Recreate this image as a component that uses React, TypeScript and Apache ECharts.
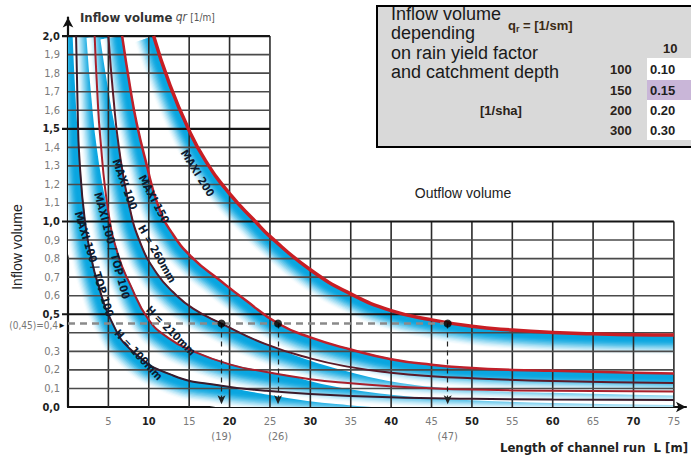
import React, { useEffect, useRef } from 'react';
import * as echarts from 'echarts';

// ---------- axis ticks ----------
const xTickValues = [0, 5, 10, 15, 20, 25, 30, 35, 40, 45, 50, 55, 60, 65, 70, 75];
const yTickValues = [0, 0.1, 0.2, 0.3, 0.4, 0.5, 0.6, 0.7, 0.8, 0.9, 1.0, 1.1, 1.2, 1.3, 1.4, 1.5, 1.6, 1.7, 1.8, 1.9, 2.0];
const upperGridMaxL = 25;
const lowerGridMaxL = 75;
const splitV = 1.0;
const topV = 2.0;

// ---------- curves (L [m], inflow volume) ----------
const c1L = [1.0, 1.2, 1.4, 2.1, 3.0, 3.6, 5.3, 8.0, 13.0, 19.0, 24.4, 30, 40, 50, 60, 75];
const c1V = [2.0, 1.6, 1.35, 1.0, 0.78, 0.68, 0.47, 0.3, 0.17, 0.115, 0.088, 0.07, 0.052, 0.044, 0.04, 0.038];
const c2L = [3.3, 3.6, 4.0, 5.0, 6.2, 7.7, 10.0, 12.5, 15.0, 20.0, 24.4, 30, 35, 40, 45, 50, 60, 75];
const c2V = [2.0, 1.72, 1.45, 1.05, 0.82, 0.66, 0.47, 0.37, 0.31, 0.23, 0.19, 0.15, 0.128, 0.112, 0.101, 0.094, 0.087, 0.083];
const c3L = [5.0, 5.6, 6.3, 7.5, 9.0, 11.0, 13.0, 15.5, 19.0, 24.4, 30, 35, 40, 45, 50, 60, 75];
const c3V = [2.0, 1.68, 1.4, 1.1, 0.88, 0.72, 0.62, 0.53, 0.45, 0.34, 0.262, 0.215, 0.185, 0.166, 0.155, 0.14, 0.13];
const c4L = [6.7, 7.7, 8.5, 9.6, 11.2, 13.0, 15.5, 18.6, 22.0, 26.0, 30, 35, 40, 45, 50, 55, 60, 65, 70, 75];
const c4V = [2.0, 1.72, 1.53, 1.33, 1.08, 0.93, 0.8, 0.69, 0.575, 0.45, 0.375, 0.31, 0.258, 0.228, 0.21, 0.2, 0.195, 0.19, 0.185, 0.18];
const c5L = [10.6, 12.5, 14.9, 17.0, 20.0, 23.2, 25.0, 30, 35, 40, 45, 50, 55, 60, 65, 70, 75];
const c5V = [2.0, 1.75, 1.5, 1.33, 1.15, 1.0, 0.92, 0.74, 0.61, 0.52, 0.47, 0.435, 0.415, 0.402, 0.395, 0.39, 0.388];

const curveNames = ['MAXI 100 / TOP 100 (a)', 'MAXI 100 / TOP 100 (b)', 'MAXI 100', 'MAXI 150', 'MAXI 200'];
const curveColors = ['#3a1a2a', '#a8202c', '#5a1a28', '#c0202a', '#c81e24'];
const curveWidths = [2, 2, 2, 2.5, 3.5];

// ---------- curve labels ----------
const curveLabelTexts = ['MAXI 200', 'MAXI 150', 'H = 260mm', 'MAXI 100', 'H = 210mm', 'MAXI 100 / TOP 100', 'H = 100mm', 'MAXI 100 / TOP 100'];
const curveLabelL = [16.0, 10.6, 11.0, 7.0, 12.7, 5.4, 8.7, 3.2];
const curveLabelV = [1.26, 1.12, 0.825, 1.2, 0.41, 0.87, 0.28, 0.77];
const curveLabelAngle = [58, 62, 60, 70, 45, 75, 47, 73];

// ---------- reference reading ----------
const refLineV = 0.45;
const refPointsL = [19, 26, 47];

// ---------- table ----------
const tableTitleLines = ['Inflow volume', 'depending', 'on rain yield factor', 'and catchment depth'];
const tableColHeader = '10';
const tableRowLabels = ['100', '150', '200', '300'];
const tableCellValues = ['0.10', '0.15', '0.20', '0.30'];

const NARROW = "'Liberation Sans Narrow','DejaVu Sans Condensed','Roboto Condensed','Arial Narrow',Roboto,sans-serif";
const ARIAL = "'Liberation Sans',Arial,sans-serif";

function fmtComma(v: number) {
  return (Math.round(v * 10) / 10).toFixed(1).replace('.', ',');
}

function bandColor(d: number, maxD: number) {
  const t = Math.min(1, Math.max(0, (d / maxD - 0.2) / 0.8));
  const s = t * t * (3 - 2 * t);
  const r = Math.round(10 + (255 - 10) * s);
  const g = Math.round(166 + (255 - 166) * s);
  const b = Math.round(224 + (255 - 224) * s);
  return `rgb(${r},${g},${b})`;
}

function buildOption(): any {
  const curves = [
    { L: c1L, V: c1V },
    { L: c2L, V: c2V },
    { L: c3L, V: c3V },
    { L: c4L, V: c4V },
    { L: c5L, V: c5V },
  ];

  const BAND = 20;
  const bandSeries = curves.map((c, ci) => ({
    type: 'custom',
    name: 'band' + ci,
    coordinateSystem: 'cartesian2d',
    clip: true,
    silent: true,
    z: 1,
    data: [[c.L[0], c.V[0]]],
    renderItem: (params: any, api: any) => {
      const pts = c.L.map((l, i) => api.coord([l, c.V[i]]));
      const normals = pts.map((p: number[], i: number) => {
        const a = pts[Math.max(0, i - 1)];
        const b = pts[Math.min(pts.length - 1, i + 1)];
        let tx = b[0] - a[0];
        let ty = b[1] - a[1];
        const len = Math.hypot(tx, ty) || 1;
        tx /= len;
        ty /= len;
        return [-ty, tx];
      });
      const children: any[] = [];
      const step = 1.2;
      const N = Math.ceil(BAND / step);
      for (let k = N; k >= 0; k--) {
        const d = 0.5 + k * step;
        children.push({
          type: 'polyline',
          shape: {
            points: pts.map((p: number[], i: number) => [p[0] + normals[i][0] * d, p[1] + normals[i][1] * d]),
            smooth: 0.5,
          },
          style: { stroke: bandColor(d, BAND), lineWidth: 2.2, fill: null },
        });
      }
      return { type: 'group', children };
    },
  }));

  const gridSeries = {
    type: 'custom',
    name: 'gridlines',
    coordinateSystem: 'cartesian2d',
    clip: false,
    silent: true,
    z: 2,
    data: [[0, 0]],
    renderItem: (params: any, api: any) => {
      const children: any[] = [];
      xTickValues.forEach((L) => {
        if (L === 0) return;
        const top = L <= upperGridMaxL ? topV : splitV;
        const p0 = api.coord([L, 0]);
        const p1 = api.coord([L, top]);
        children.push({
          type: 'line',
          shape: { x1: p0[0], y1: p0[1], x2: p1[0], y2: p1[1] },
          style: { stroke: '#2b2b2b', lineWidth: 1.6 },
        });
      });
      yTickValues.forEach((v) => {
        if (v === 0) return;
        const right = v <= splitV + 1e-9 ? lowerGridMaxL : upperGridMaxL;
        const major = Math.abs(v * 2 - Math.round(v * 2)) < 1e-6;
        const p0 = api.coord([0, v]);
        const p1 = api.coord([right, v]);
        children.push({
          type: 'line',
          shape: { x1: p0[0] - (major ? 6 : 0), y1: p0[1], x2: p1[0], y2: p1[1] },
          style: { stroke: major ? '#151515' : '#4a4a4a', lineWidth: major ? 2.2 : 1.6 },
        });
      });
      return { type: 'group', children };
    },
  };

  const lineSeries = curves.map((c, i) => ({
    type: 'line',
    name: curveNames[i],
    data: c.L.map((l, j) => [l, c.V[j]]),
    showSymbol: false,
    symbol: 'none',
    smooth: 0.5,
    clip: true,
    silent: true,
    z: 3,
    lineStyle: { color: curveColors[i], width: curveWidths[i] },
  }));

  const labelSeries = {
    type: 'custom',
    name: 'curveLabels',
    coordinateSystem: 'cartesian2d',
    clip: false,
    silent: true,
    z: 4,
    data: curveLabelTexts.map((t, i) => [curveLabelL[i], curveLabelV[i], i]),
    renderItem: (params: any, api: any) => {
      const i = params.dataIndex;
      const p = api.coord([api.value(0), api.value(1)]);
      return {
        type: 'text',
        x: p[0],
        y: p[1],
        rotation: (-curveLabelAngle[i] * Math.PI) / 180,
        style: {
          text: curveLabelTexts[i],
          fill: '#0d1b30',
          font: `bold 11px ${NARROW}`,
          align: 'center',
          verticalAlign: 'middle',
        },
      };
    },
  };

  const dashH = { type: [7, 5], color: '#8a8a8a', width: 2.5 };
  const dashV = { type: [5, 4], color: '#222', width: 1.2 };
  const hLabel = {
    show: true,
    position: 'start',
    distance: 2,
    offset: [0, 2],
    formatter: '{t|(0,45)=0,4}{a|►}',
    rich: {
      t: { color: '#777', fontSize: 10, fontFamily: NARROW },
      a: { color: '#111', fontSize: 8 },
    },
  };

  const refSeries = {
    type: 'scatter',
    name: 'reading',
    data: refPointsL.map((L) => [L, refLineV]),
    symbolSize: 8,
    itemStyle: { color: '#000' },
    silent: true,
    z: 6,
    markLine: {
      silent: true,
      symbol: ['none', 'none'],
      label: { show: false },
      data: [
        [
          { coord: [0, refLineV], lineStyle: dashH, label: hLabel },
          { coord: [refPointsL[2], refLineV], lineStyle: dashH, label: hLabel },
        ],
        ...refPointsL.map((L) => [
          { coord: [L, refLineV], lineStyle: dashV, symbol: 'none' },
          { coord: [L, 0.015], lineStyle: dashV, symbol: 'arrow', symbolSize: [6, 9] },
        ]),
      ],
    },
  };

  const richAxis = {
    b: { fontFamily: NARROW, fontWeight: 'bold', fontSize: 11, color: '#1e1e1e' },
    n: { fontFamily: NARROW, fontSize: 11, color: '#7a7a7a' },
  };

  // table graphics
  const tableGraphics: any[] = [
    { type: 'rect', shape: { x: 377, y: 6, width: 330, height: 141 }, style: { fill: '#d9d9d9', stroke: '#000', lineWidth: 2 }, z: 10 },
  ];
  const cellTops = [58, 80, 100, 120];
  const cellHeights = [22, 20, 20, 20];
  const cellFills = ['#ffffff', '#c9b6d8', '#ffffff', '#ffffff'];
  tableRowLabels.forEach((r, i) => {
    tableGraphics.push({ type: 'rect', shape: { x: 647, y: cellTops[i], width: 60, height: cellHeights[i] }, style: { fill: cellFills[i] }, z: 11 });
    tableGraphics.push({
      type: 'text', x: 610, y: cellTops[i] + cellHeights[i] / 2, z: 12,
      style: { text: r, font: `bold 13px ${ARIAL}`, fill: '#2a2218', verticalAlign: 'middle' },
    });
    tableGraphics.push({
      type: 'text', x: 650, y: cellTops[i] + cellHeights[i] / 2, z: 12,
      style: { text: tableCellValues[i], font: `bold 13px ${ARIAL}`, fill: '#1e1e1e', verticalAlign: 'middle' },
    });
  });
  tableGraphics.push(
    {
      type: 'text', x: 391, y: 4, z: 12,
      style: { text: tableTitleLines.join('\n'), font: `18px ${ARIAL}`, lineHeight: 19.5, fill: '#1a1a1a', verticalAlign: 'top' },
    },
    {
      type: 'text', x: 508, y: 25, z: 12,
      style: {
        text: '{q|q}{r|r}{q| = [1/sm]}',
        verticalAlign: 'middle',
        rich: {
          q: { font: `bold 13px ${ARIAL}`, fill: '#3b2a14', lineHeight: 16 },
          r: { font: `bold 9px ${ARIAL}`, fill: '#3b2a14', lineHeight: 16, verticalAlign: 'bottom', padding: [6, 0, 0, 0] },
        },
      },
    },
    {
      type: 'text', x: 663, y: 48, z: 12,
      style: { text: tableColHeader, font: `bold 13px ${ARIAL}`, fill: '#2a2218', verticalAlign: 'middle' },
    },
    {
      type: 'text', x: 480, y: 110, z: 12,
      style: { text: '[1/sha]', font: `bold 13px ${ARIAL}`, fill: '#2a2218', verticalAlign: 'middle' },
    }
  );

  return {
    animation: false,
    backgroundColor: '#ffffff',
    grid: { left: 68, right: 5, top: 17.5, bottom: 52, containLabel: false, outerBoundsMode: 'none' },
    xAxis: [
      {
        type: 'value',
        min: 0,
        max: 76.5,
        interval: 5,
        axisLine: { show: true, onZero: false, symbol: ['none', 'arrow'], symbolSize: [8, 10], lineStyle: { color: '#111', width: 2.2 } },
        axisTick: { show: false },
        splitLine: { show: false },
        axisLabel: {
          margin: 9,
          showMinLabel: true,
          showMaxLabel: true,
          formatter: (v: number) => {
            const r = Math.round(v);
            if (Math.abs(v - r) > 1e-6 || r === 0 || r % 5 !== 0 || r > 75) return '';
            return r % 10 === 0 ? `{b|${r}}` : `{n|${r}}`;
          },
          rich: richAxis,
        },
      },
      {
        type: 'value',
        min: 0,
        max: 76.5,
        position: 'bottom',
        axisLine: { show: false },
        axisTick: { show: false },
        splitLine: { show: false },
        axisLabel: {
          customValues: refPointsL,
          margin: 24,
          formatter: (v: number) => `(${v})`,
          color: '#777',
          fontSize: 11,
          fontFamily: NARROW,
        },
      },
    ],
    yAxis: {
      type: 'value',
      min: 0,
      max: 2.1,
      interval: 0.1,
      axisLine: { show: true, onZero: false, symbol: ['none', 'arrow'], symbolSize: [8, 10], lineStyle: { color: '#111', width: 2.2 } },
      axisTick: { show: false },
      splitLine: { show: false },
      axisLabel: {
        margin: 8,
        formatter: (v: number) => {
          const r = Math.round(v * 10);
          if (r === 4 || r > 20) return '';
          const s = fmtComma(v);
          return r % 5 === 0 ? `{b|${s}}` : `{n|${s}}`;
        },
        rich: richAxis,
      },
    },
    graphic: [
      {
        type: 'text', x: 80, y: 17,
        style: {
          text: '{a|Inflow volume} {q|qr} {f|[1/m]}',
          verticalAlign: 'middle',
          rich: {
            a: { font: `bold 13px ${NARROW}`, fill: '#333' },
            q: { font: `italic 12px ${NARROW}`, fill: '#555' },
            f: { font: `10px ${NARROW}`, fill: '#555' },
          },
        },
      },
      {
        type: 'text', x: 17, y: 247, rotation: Math.PI / 2,
        style: { text: 'Inflow volume', font: `14px ${ARIAL}`, fill: '#222', align: 'center', verticalAlign: 'middle' },
      },
      {
        type: 'text', x: 463, y: 193,
        style: { text: 'Outflow volume', font: `14px ${ARIAL}`, fill: '#222', align: 'center', verticalAlign: 'middle' },
      },
      {
        type: 'text', x: 688, y: 447,
        style: { text: 'Length of channel run  L [m]', font: `bold 13px ${NARROW}`, fill: '#222', align: 'right', verticalAlign: 'middle' },
      },
      ...tableGraphics,
    ],
    series: [...bandSeries, gridSeries, ...lineSeries, labelSeries, refSeries],
  };
}

export default function App() {
  const ref = useRef<HTMLDivElement>(null);
  useEffect(() => {
    document.body.style.margin = '0';
    const chart = echarts.init(ref.current as HTMLDivElement, null, { renderer: 'svg' });
    chart.setOption(buildOption());
    return () => chart.dispose();
  }, []);
  return <div ref={ref} style={{ width: 691, height: 459, background: '#fff' }} />;
}
